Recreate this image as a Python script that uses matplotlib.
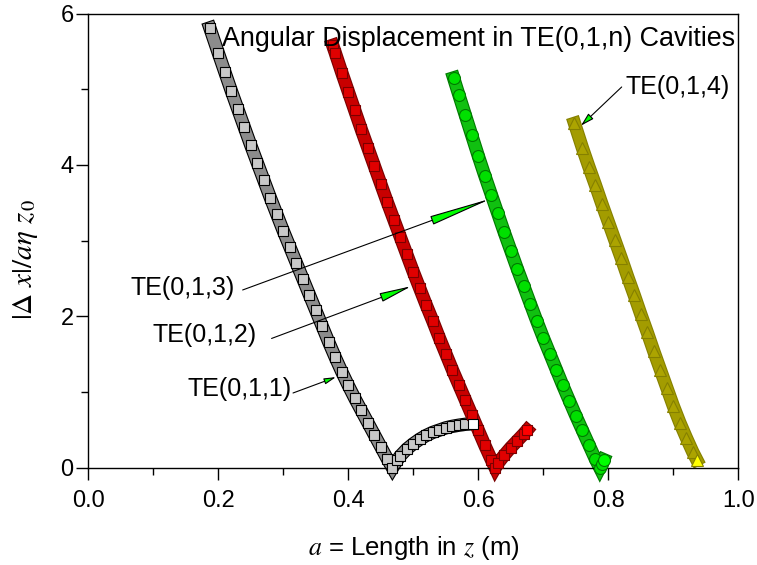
import matplotlib
matplotlib.use("Agg")
import matplotlib.pyplot as plt
import matplotlib.patheffects as pe
from matplotlib.patches import ArrowStyle

plt.rcParams['font.family'] = ['Liberation Sans', 'DejaVu Sans']
plt.rcParams['mathtext.fontset'] = 'stix'

# cavity length a (m) and normalised displacement
a_011 = [0.187, 0.20, 0.21, 0.22, 0.23, 0.24, 0.25, 0.26, 0.27, 0.28, 0.29, 0.30,
         0.31, 0.32, 0.33, 0.34, 0.35, 0.36, 0.37, 0.38, 0.39, 0.40, 0.41, 0.42,
         0.43, 0.44, 0.45, 0.46, 0.468, 0.475, 0.48, 0.49, 0.50, 0.51, 0.52, 0.53,
         0.54, 0.55, 0.56, 0.57, 0.58, 0.592]
d_011 = [5.81, 5.48, 5.23, 4.98, 4.74, 4.50, 4.26, 4.03, 3.80, 3.57, 3.35, 3.13,
         2.92, 2.71, 2.50, 2.29, 2.08, 1.87, 1.66, 1.46, 1.27, 1.09, 0.92, 0.76,
         0.60, 0.44, 0.28, 0.12, 0.0, 0.10, 0.16, 0.25, 0.32, 0.38, 0.43, 0.47,
         0.50, 0.53, 0.55, 0.565, 0.577, 0.585]

a_012 = [0.376, 0.38, 0.39, 0.40, 0.41, 0.42, 0.43, 0.44, 0.45, 0.46, 0.47, 0.48,
         0.49, 0.50, 0.51, 0.52, 0.53, 0.54, 0.55, 0.56, 0.57, 0.58, 0.59, 0.60,
         0.61, 0.62, 0.626, 0.63, 0.64, 0.65, 0.66, 0.67, 0.675]
d_012 = [5.58, 5.48, 5.22, 4.97, 4.72, 4.47, 4.23, 3.99, 3.75, 3.51, 3.28, 3.05,
         2.82, 2.59, 2.37, 2.15, 1.94, 1.72, 1.51, 1.30, 1.10, 0.90, 0.70, 0.50,
         0.30, 0.11, 0.0, 0.06, 0.17, 0.27, 0.36, 0.45, 0.50]

a_013 = [0.562, 0.57, 0.58, 0.59, 0.60, 0.61, 0.62, 0.63, 0.64, 0.65, 0.66, 0.67,
         0.68, 0.69, 0.70, 0.71, 0.72, 0.73, 0.74, 0.75, 0.76, 0.77, 0.78, 0.787,
         0.79, 0.793]
d_013 = [5.15, 4.93, 4.66, 4.39, 4.12, 3.86, 3.61, 3.36, 3.11, 2.87, 2.63, 2.40,
         2.17, 1.94, 1.72, 1.51, 1.30, 1.09, 0.89, 0.69, 0.50, 0.31, 0.12, 0.0,
         0.05, 0.11]

a_014 = [0.748, 0.76, 0.77, 0.78, 0.79, 0.80, 0.81, 0.82, 0.83, 0.84, 0.85, 0.86,
         0.87, 0.88, 0.89, 0.90, 0.91, 0.92, 0.93, 0.936]
d_014 = [4.55, 4.23, 3.98, 3.74, 3.49, 3.25, 3.01, 2.77, 2.52, 2.28, 2.03, 1.79,
         1.54, 1.30, 1.06, 0.82, 0.60, 0.40, 0.21, 0.11]

mode_labels = ['TE(0,1,1)', 'TE(0,1,2)', 'TE(0,1,3)', 'TE(0,1,4)']
label_pos = [(0.313, 1.04), (0.259, 1.75), (0.2255, 2.38), (0.826, 5.03)]
arrow_tail = [(0.315, 0.99), (0.282, 1.71), (0.2375, 2.35), (0.8206, 5.03)]
arrow_tip = [(0.381, 1.20), (0.497, 2.40), (0.621, 3.56), (0.758, 4.52)]
head_len = [7, 20, 40, 8]
head_wid = [1.8, 2.8, 2.8, 2.2]

fig = plt.figure(figsize=(7.57, 5.65), dpi=100)
ax = fig.add_axes([0.1166, 0.1717, 0.8587, 0.8044])


def band(x, y, marker, ms, face, edge, fill, last):
    ax.plot(x, y, '-', color=fill, lw=8.0, solid_joinstyle='miter', clip_on=False, zorder=2,
            path_effects=[pe.Stroke(linewidth=9.6, foreground=edge), pe.Normal()])
    ax.plot(x[:-1], y[:-1], ls='none', marker=marker, ms=ms, mfc=face, mec=edge,
            mew=0.8, clip_on=False, zorder=3)
    ax.plot(x[-1:], y[-1:], ls='none', marker=marker, ms=ms, mfc=last, mec=edge,
            mew=0.8, clip_on=False, zorder=4)


band(a_011, d_011, 's', 7.9, '#c8c8c8', 'black', '#8c8c8c', 'white')
band(a_012, d_012, 's', 7.9, '#e00000', '#7a0000', '#c80000', '#ff0000')
band(a_013, d_013, 'o', 8.6, '#00e000', '#007a00', '#10c010', '#00ff00')
band(a_014, d_014, '^', 8.6, '#aca400', '#858000', '#a39c00', '#ffff00')

for lab, pos, tail, tip, hl, hw in zip(mode_labels, label_pos, arrow_tail, arrow_tip, head_len, head_wid):
    ha = 'left' if lab == 'TE(0,1,4)' else 'right'
    ax.text(pos[0], pos[1], lab, fontsize=18, ha=ha, va='center', zorder=6)
    ax.annotate('', xy=tip, xytext=tail, zorder=6,
                arrowprops=dict(arrowstyle=ArrowStyle('-|>', head_length=hl, head_width=hw),
                                mutation_scale=1, fc='#00ff00', ec='black', lw=0.8,
                                shrinkA=0, shrinkB=0))

ax.text(0.2057, 5.67, 'Angular Displacement in TE(0,1,n) Cavities', fontsize=19.4,
        ha='left', va='center', zorder=6)

ax.set_xlim(0, 1)
ax.set_ylim(0, 6)
ax.set_xticks([0.0, 0.2, 0.4, 0.6, 0.8, 1.0])
ax.set_xticklabels(['0.0', '0.2', '0.4', '0.6', '0.8', '1.0'])
ax.set_xticks([0.1, 0.3, 0.5, 0.7, 0.9], minor=True)
ax.set_yticks([0, 2, 4, 6])
ax.set_yticks([1, 3, 5], minor=True)
ax.tick_params(which='both', direction='out', labelsize=17, width=1, top=False, right=False)
ax.tick_params(which='major', length=8.6)
ax.tick_params(which='minor', length=5)
ax.tick_params(axis='y', pad=2)
ax.tick_params(axis='x', pad=7)
for s in ax.spines.values():
    s.set_linewidth(1)

ax.set_xlabel(r'$a$ = Length in $z$ (m)', fontsize=18.5)
ax.set_ylabel(r'$|\Delta\ x|/a\eta\ z_{\,0}$', fontsize=21)
ax.xaxis.set_label_coords(0.5, -0.145)
ax.yaxis.set_label_coords(-0.075, 0.46)

fig.savefig('out.png', dpi=100)
